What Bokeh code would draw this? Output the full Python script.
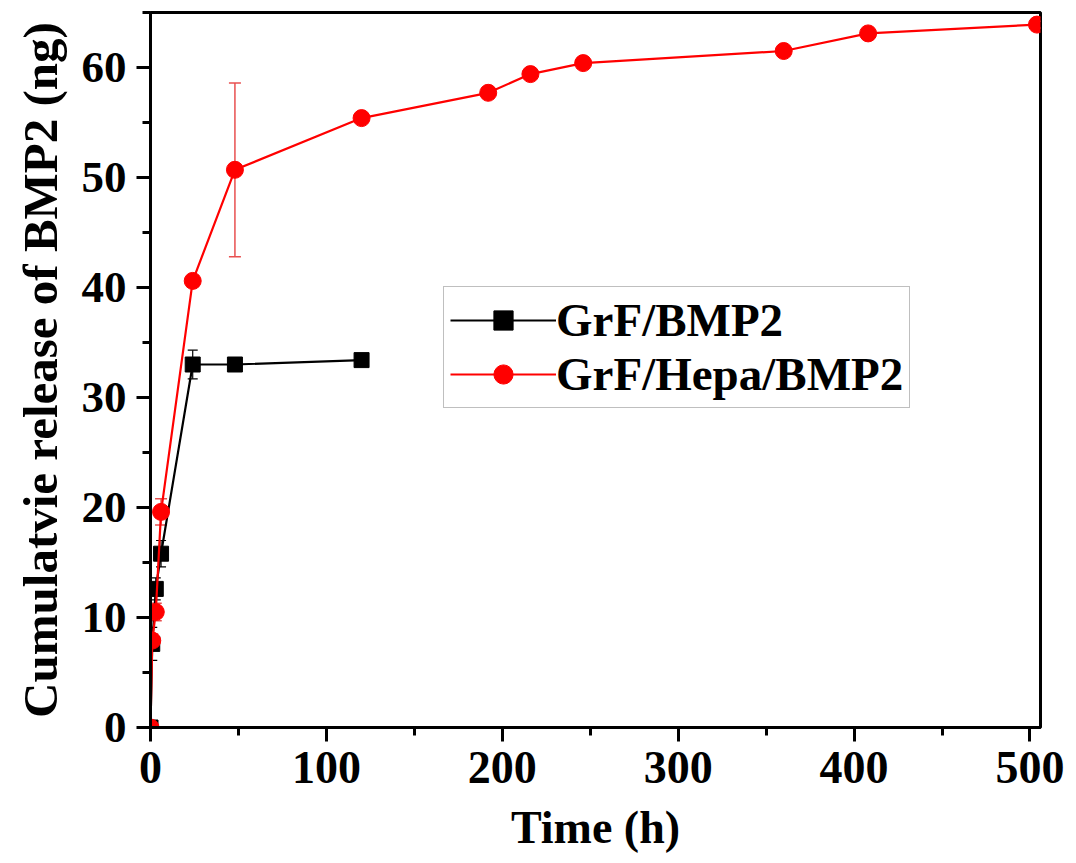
from bokeh.plotting import figure
from bokeh.models import ColumnDataSource, Whisker, TeeHead, Legend, LegendItem, Range1d, FixedTicker, Title
from bokeh.embed import file_html
from bokeh.resources import INLINE

# Data
time_grf = [0, 1, 3, 6, 24, 48, 120]
rel_grf = [0, 7.6, 12.6, 15.8, 33.0, 33.0, 33.4]
err_grf = [0, 1.5, 1.0, 1.2, 1.3, 0.3, 0.3]

time_hepa = [0, 1, 3, 6, 24, 48, 120, 192, 216, 246, 360, 408, 504]
rel_hepa = [0, 7.9, 10.5, 19.6, 40.6, 50.7, 55.4, 57.7, 59.4, 60.4, 61.5, 63.1, 63.9]
err_hepa = [0, 0.6, 0.8, 1.2, 0.5, 7.9, 0.3, 0.3, 0.3, 0.3, 0.3, 0.3, 0.3]

x_ticks = [0, 100, 200, 300, 400, 500]
x_minor = [50, 150, 250, 350, 450]
y_ticks = [0, 10, 20, 30, 40, 50, 60]
y_minor = [5, 15, 25, 35, 45, 55, 65]

FONT = "Liberation Serif"

def src(x, y, e):
    return ColumnDataSource(dict(x=x, y=y, lo=[a - b for a, b in zip(y, e)], hi=[a + b for a, b in zip(y, e)]))

s_grf = src(time_grf, rel_grf, err_grf)
s_hepa = src(time_hepa, rel_hepa, err_hepa)

p = figure(width=1068, height=858, output_backend="svg", toolbar_location=None,
           x_range=Range1d(0, 506), y_range=Range1d(0, 65),
           min_border_left=150, min_border_right=28, min_border_top=12, min_border_bottom=131)

p.xgrid.visible = False
p.ygrid.visible = False
p.outline_line_color = "black"
p.outline_line_width = 3
p.outline_line_alpha = 1

# error bars
w1 = Whisker(source=s_grf, base="x", lower="lo", upper="hi", line_color="black", line_width=1.2,
             upper_head=TeeHead(size=10, line_color="black", line_width=1.2),
             lower_head=TeeHead(size=10, line_color="black", line_width=1.2))
w2 = Whisker(source=s_hepa, base="x", lower="lo", upper="hi", line_color="#e85050", line_width=1.5,
             upper_head=TeeHead(size=12, line_color="#e85050", line_width=1.5),
             lower_head=TeeHead(size=12, line_color="#e85050", line_width=1.5))
p.add_layout(w1)

l1 = p.line("x", "y", source=s_grf, line_color="black", line_width=2.2)
m1 = p.scatter("x", "y", source=s_grf, marker="square", size=15, fill_color="black", line_color="black")
p.add_layout(w2)
l2 = p.line("x", "y", source=s_hepa, line_color="#ff0000", line_width=2.2)
m2 = p.scatter("x", "y", source=s_hepa, marker="circle", size=17, fill_color="#ff0000", line_color="#ff0000")

legend = Legend(items=[LegendItem(label="GrF/BMP2", renderers=[l1, m1]),
                       LegendItem(label="GrF/Hepa/BMP2", renderers=[l2, m2])],
                location=(293, 319))
legend.label_text_font = FONT
legend.label_text_font_style = "bold"
legend.label_text_font_size = "47px"
legend.label_text_color = "black"
legend.label_text_line_height = 0.9
legend.glyph_width = 106
legend.glyph_height = 48
legend.label_height = 48
legend.label_standoff = 0
legend.spacing = 0
legend.padding = 6
legend.margin = 0
legend.border_line_color = "#808080"
legend.border_line_width = 1.5
legend.background_fill_alpha = 0
p.add_layout(legend)

for ax in (p.xaxis[0], p.yaxis[0]):
    ax.axis_line_width = 3
    ax.axis_line_color = "black"
    ax.major_tick_line_width = 3
    ax.minor_tick_line_width = 3
    ax.major_tick_line_color = "black"
    ax.minor_tick_line_color = "black"
    ax.major_tick_out = 14
    ax.major_tick_in = 0
    ax.minor_tick_out = 8
    ax.minor_tick_in = 0
    ax.major_label_text_font = FONT
    ax.major_label_text_font_style = "bold"
    ax.major_label_text_color = "black"
    ax.axis_label_text_font = FONT
    ax.axis_label_text_font_style = "bold"
    ax.axis_label_text_font_size = "46px"
    ax.axis_label_text_color = "black"

p.xaxis[0].ticker = FixedTicker(ticks=x_ticks, minor_ticks=x_minor)
p.yaxis[0].ticker = FixedTicker(ticks=y_ticks, minor_ticks=y_minor)
p.xaxis.major_label_text_font_size = "46px"
p.yaxis.major_label_text_font_size = "45px"
p.xaxis.major_label_standoff = 10
p.yaxis.major_label_standoff = 10
p.xaxis.axis_label = "Time (h)"
p.xaxis.axis_label_standoff = 16

ylab = Title(text="Cumulatvie release of BMP2 (ng)", align="center", offset=0,
             text_font=FONT, text_font_style="bold", text_font_size="49px",
             text_color="black", standoff=21)
p.add_layout(ylab, "left")

open("out.html", "w").write(file_html(p, INLINE))
